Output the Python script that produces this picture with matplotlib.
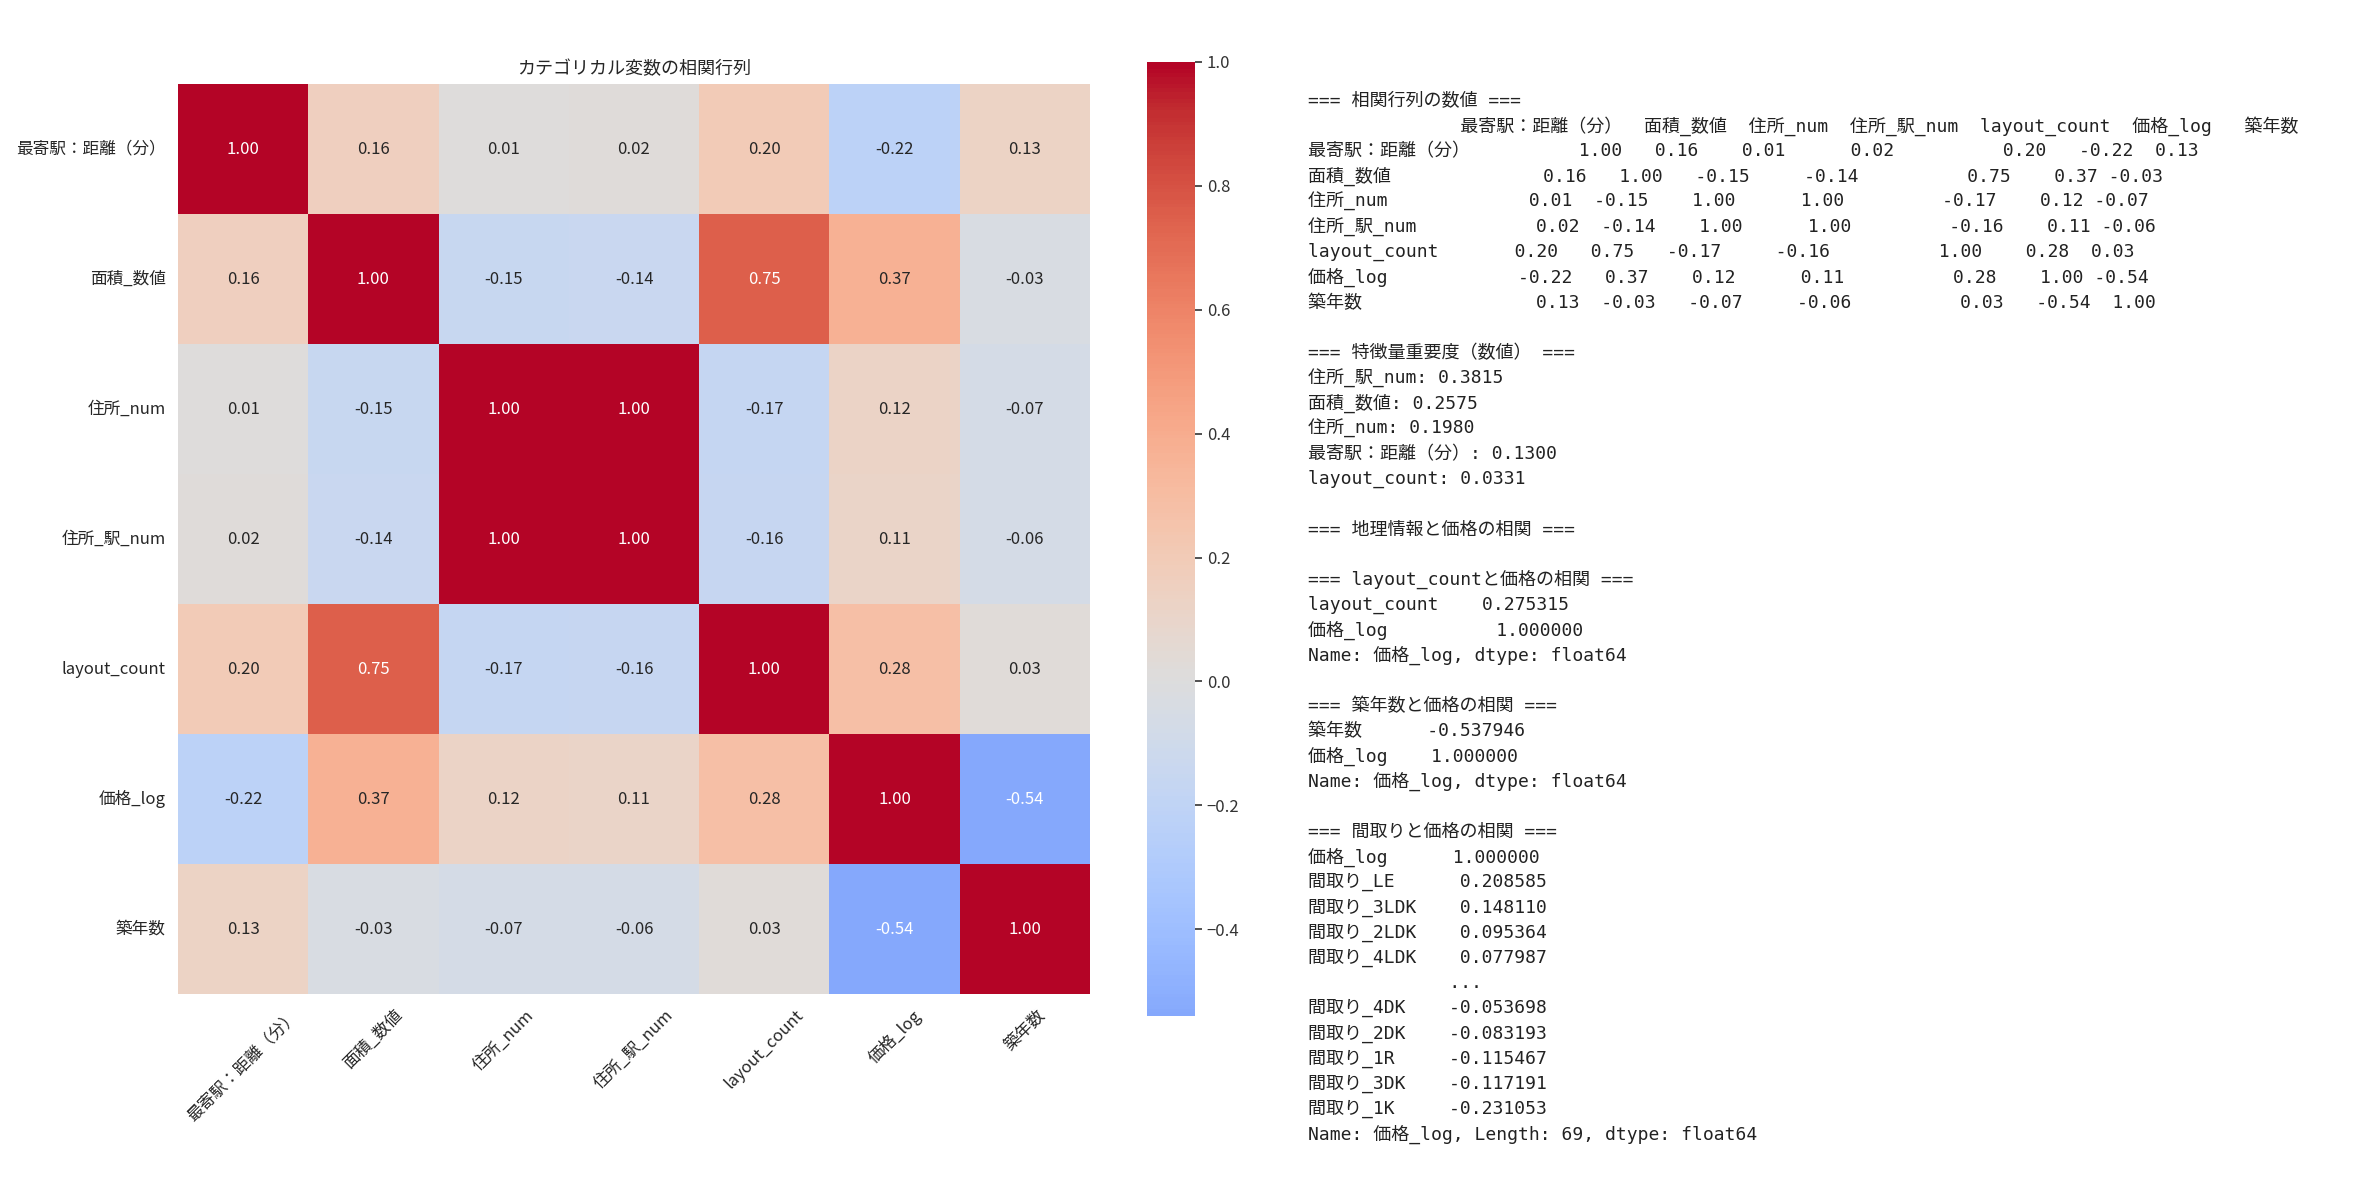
import numpy as np
import pandas as pd
import matplotlib
matplotlib.use("Agg")
import matplotlib.pyplot as plt
import seaborn as sns

plt.rcParams['font.family'] = ['Noto Sans CJK JP', 'DejaVu Sans']

# ---------------- data ----------------
variables = ['最寄駅：距離（分）', '面積_数値', '住所_num', '住所_駅_num',
             'layout_count', '価格_log', '築年数']
corr_dist = [1.00, 0.16, 0.01, 0.02, 0.20, -0.22, 0.13]
corr_area = [0.16, 1.00, -0.15, -0.14, 0.75, 0.37, -0.03]
corr_addr = [0.01, -0.15, 1.00, 1.00, -0.17, 0.12, -0.07]
corr_addr_st = [0.02, -0.14, 1.00, 1.00, -0.16, 0.11, -0.06]
corr_layout = [0.20, 0.75, -0.17, -0.16, 1.00, 0.28, 0.03]
corr_price = [-0.22, 0.37, 0.12, 0.11, 0.28, 1.00, -0.54]
corr_age = [0.13, -0.03, -0.07, -0.06, 0.03, -0.54, 1.00]

importance_names = ['住所_駅_num', '面積_数値', '住所_num', '最寄駅：距離（分）', 'layout_count']
importance_values = [0.3815, 0.2575, 0.1980, 0.1300, 0.0331]

layout_corr_lines = ['layout_count    0.275315',
                     '価格_log          1.000000']
age_corr_lines = ['築年数      -0.537946',
                  '価格_log    1.000000']
madori_corr_lines = ['価格_log      1.000000',
                     '間取り_LE      0.208585',
                     '間取り_3LDK    0.148110',
                     '間取り_2LDK    0.095364',
                     '間取り_4LDK    0.077987',
                     '             ...',
                     '間取り_4DK    -0.053698',
                     '間取り_2DK    -0.083193',
                     '間取り_1R     -0.115467',
                     '間取り_3DK    -0.117191',
                     '間取り_1K     -0.231053']

corr = pd.DataFrame([corr_dist, corr_area, corr_addr, corr_addr_st,
                     corr_layout, corr_price, corr_age],
                    index=variables, columns=variables)

# ---------------- figure ----------------
W, H = 2371, 1178
fig = plt.figure(figsize=(W / 100, H / 100), dpi=100)
ax = fig.add_axes([178 / W, 1 - 994 / H, 912 / W, 910 / H])
cax = fig.add_axes([1147 / W, 1 - 1016 / H, 48 / W, 954 / H])

sns.heatmap(corr, annot=True, fmt='.2f', cmap='coolwarm', center=0,
            ax=ax, cbar_ax=cax, annot_kws={'fontsize': 12})

ax.set_title('カテゴリカル変数の相関行列', fontsize=13, color='#262626', pad=7)
ax.set_yticklabels(variables, rotation=0, fontsize=12, color='#262626')
ax.set_xticklabels(variables, rotation=45, ha='center', fontsize=12, color='#262626')
ax.tick_params(axis='both', length=0, pad=9)

cax.tick_params(labelsize=12, length=5, width=1.2, colors='#333333')

# ---------------- text panel ----------------
lines = ['=== 相関行列の数値 ===']
lines += corr.to_string(float_format=lambda v: f'{v:.2f}').split('\n')
lines += ['', '=== 特徴量重要度（数値） ===']
lines += [f'{n}: {v:.4f}' for n, v in zip(importance_names, importance_values)]
lines += ['', '=== 地理情報と価格の相関 ===', '']
lines += ['=== layout_countと価格の相関 ===']
lines += layout_corr_lines
lines += ['Name: 価格_log, dtype: float64', '']
lines += ['=== 築年数と価格の相関 ===']
lines += age_corr_lines
lines += ['Name: 価格_log, dtype: float64', '']
lines += ['=== 間取りと価格の相関 ===']
lines += madori_corr_lines
lines += ['Name: 価格_log, Length: 69, dtype: float64']

x0, y0, dy = 1308, 101, 25.2
for i, line in enumerate(lines):
    fig.text(x0 / W, 1 - (y0 + i * dy) / H, line, ha='left', va='center',
             fontsize=13, color='#222222',
             family=['DejaVu Sans Mono', 'Noto Sans CJK JP'])

fig.savefig('out.png', dpi=100)
